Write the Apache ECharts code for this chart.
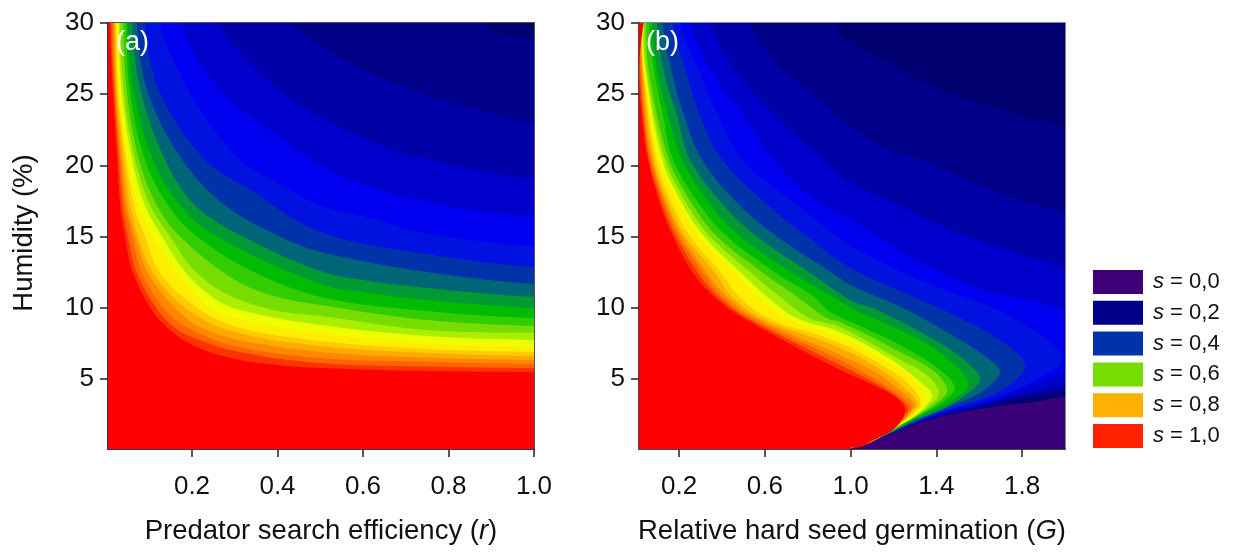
<!DOCTYPE html>
<html><head><meta charset="utf-8">
<style>html,body{margin:0;padding:0;background:#fff}#c{width:1235px;height:554px}</style>
<script src="https://cdn.jsdelivr.net/npm/echarts@6/dist/echarts.min.js"></script>
</head><body><div id="c"></div>
<script>
// Tick labels
const rTicks=[0.2,0.4,0.6,0.8,1.0];
const gTicks=[0.2,0.6,1.0,1.4,1.8];
const hTicks=[5,10,15,20,25,30];
const legendNames=['s = 0,0','s = 0,2','s = 0,4','s = 0,6','s = 0,8','s = 1,0'];
const legendColors=['#3f0077','#00008a','#0033aa','#77dd00','#ffb000','#ff2000'];
// Band colours from the highest s (red) to the lowest
const bandColors=['#ff0000','#ff3300','#ff6600','#ff8800','#ffaa00','#ffcc00','#ffee00','#eeff00','#aaee00','#77dd00','#33cc00','#00bb00','#009933','#006677','#0033aa','#0011e0','#0000f0','#0000cc','#0000a8','#000088'];
// Panel (a): contour outlines, as r, humidity pairs
const a01=[.008,30,.015,25.1,.025,20.4,.032,17.2,.043,15,.062,12.44,.106,9.85,.149,8.44,.2,7.39,.289,6.47,.399,5.98,.5,5.77,.75,5.56,1,5.49];
const a02=[.011,30,.018,25.1,.029,20.4,.037,17.2,.05,15,.071,12.44,.12,9.85,.16,8.58,.2,7.95,.3,6.97,.5,6.12,.75,5.88,1,5.77];
const a03=[.015,30,.02,25.1,.032,20.4,.043,17.2,.06,15,.083,12.44,.137,9.85,.2,8.44,.3,7.32,.5,6.47,.75,6.2,1,6.05];
const a04=[.018,30,.022,25.1,.036,20.4,.048,17.2,.067,15,.097,12.44,.165,9.85,.219,8.65,.3,7.81,.5,6.9,.75,6.5,1,6.33];
const a05=[.02,30,.025,25.1,.041,20.4,.055,17.2,.074,15,.109,12.44,.191,9.85,.3,8.3,.5,7.32,.75,6.83,1,6.62];
const a06=[.022,30,.027,25.1,.046,20.4,.064,17.2,.09,15,.125,12.44,.219,9.85,.312,8.58,.5,7.67,.75,7.1,1,6.9];
const a07=[.025,30,.032,25.1,.05,20.4,.075,17.2,.109,15,.16,12.65,.207,11.04,.249,9.85,.294,9.35,.347,9,.5,8.23,.75,7.53,1,7.25];
const a08=[.029,30,.036,25.1,.06,20.4,.09,17.2,.13,15,.184,12.51,.247,10.76,.312,9.85,.5,8.79,.75,8.02,1,7.74];
const a09=[.032,30,.041,25.1,.067,20.4,.102,17.2,.149,15,.2,12.8,.277,11.04,.389,9.85,.5,9.42,.75,8.44,1,8.23];
const a10=[.039,30,.048,25.1,.076,20.4,.118,17.2,.172,15,.289,12.16,.383,10.9,.5,10.2,.75,9.14,1,8.72];
const a11=[.046,30,.055,25.1,.09,20.4,.144,17.2,.212,15,.336,12.65,.5,10.76,.75,9.78,1,9.28];
const a12=[.05,30,.064,25.1,.109,20.4,.172,17.2,.258,15,.5,11.67,.617,11.04,.75,10.55,1,9.99];
const a13=[.06,30,.081,25.1,.137,20.4,.207,17.2,.319,15,.5,12.58,.617,11.88,.75,11.39,1,10.76];
const a14=[.071,30,.097,25.1,.177,20.4,.277,17.2,.406,15,.5,13.92,.75,12.51,1,11.67];
const a15=[.09,30,.125,25.1,.23,20.4,.335,18.3,.5,15.32,.75,13.78,1,12.87];
const a16=[.125,30,.16,27.2,.219,23.9,.312,20.4,.398,18.8,.5,17.2,.617,16.3,.733,15.3,.85,14.76,1,14.34];
const a17=[.177,30,.219,27.2,.296,24.4,.39,22.3,.5,20.03,.617,18.48,.733,17.57,.85,16.87,1,16.38];
const a18=[.265,30,.336,27.2,.413,25.1,.5,23.4,.577,22.28,.656,21.22,.757,20.4,.89,19.54,1,19.11];
const a19=[.436,30,.5,28.46,.6,26.7,.733,25.08,.89,23.75,1,22.98];
const a20=[.881,30,1,28.95];
const aTop=[1.3,30,1.3,0];
// Panel (b): contour outlines, as G, humidity pairs
const b01=[.013,26.3,.03,23,.055,20.4,.113,17.2,.172,15,.265,12.44,.359,10.83,.499,9.28,.951,5.63,1.105,4.58,1.217,3.67,1.254,2.82,1.231,1.98,1.184,1.28,1.105,.72,1.044,.22,.998,.08];
const b02=[.016,27.5,.033,23.4,.06,20.4,.123,17.2,.186,15,.289,12.44,.378,10.83,.518,9.28,.951,5.98,1.105,4.79,1.207,3.88,1.268,2.96,1.245,2.33,1.217,1.84,1.189,1.42,1.105,.7,1.044,.24,.998,.08];
const b03=[.018,29,.036,23.6,.069,20.4,.135,17.2,.2,15,.312,12.44,.396,10.83,.536,9.28,.951,6.33,1.105,5.07,1.207,4.09,1.282,3.1,1.259,2.47,1.231,1.91,1.193,1.42,1.105,.68,1.044,.25,.998,.08];
const b04=[.02,30,.04,24,.074,20.4,.144,17.2,.214,15,.33,12.44,.419,10.83,.559,9.28,.951,6.69,1.114,5.49,1.217,4.37,1.296,3.24,1.273,2.54,1.24,2.05,1.198,1.49,1.105,.66,1.044,.26,.998,.08];
const b05=[.022,30,.032,26.5,.083,20.4,.155,17.2,.228,15,.368,12.44,.443,10.83,.583,9.28,.951,7.18,1.128,5.77,1.231,4.65,1.31,3.38,1.287,2.68,1.249,2.12,1.203,1.56,1.105,.66,1.044,.26,.998,.08];
const b06=[.023,30,.035,26.5,.093,20.4,.172,17.2,.251,15,.396,12.44,.475,10.83,.615,9.28,.951,7.53,1.137,6.05,1.254,4.86,1.324,3.53,1.305,2.75,1.259,2.19,1.207,1.56,1.105,.66,1.044,.26,.998,.08];
const b07=[.025,30,.04,26.5,.107,20.4,.202,17.2,.298,15,.46,12.44,.559,10.83,.699,9.28,.951,7.95,1.161,6.33,1.287,5.14,1.347,3.74,1.324,2.89,1.277,2.26,1.217,1.63,1.105,.66,1.044,.26,.998,.08];
const b08=[.027,30,.045,26.5,.121,20.4,.219,17.2,.317,15,.49,12.44,.606,10.83,.746,9.28,.951,8.3,1.184,6.4,1.324,4.79,1.38,3.88,1.347,3.03,1.287,2.26,1.221,1.7,1.105,.66,1.044,.26,.998,.08];
const b09=[.037,30,.05,26.5,.135,20.4,.24,17.2,.345,15,.536,12.44,.667,10.83,.807,9.28,.951,8.65,1.207,6.54,1.361,5.21,1.413,4.02,1.371,3.17,1.301,2.4,1.231,1.77,1.105,.66,1.044,.26,.998,.08];
const b10=[.046,30,.06,26.5,.153,20.4,.265,17.2,.377,15,.592,12.44,.746,10.83,.886,9.28,.951,9,1.231,6.9,1.394,5.49,1.45,4.23,1.408,3.38,1.324,2.54,1.245,1.91,1.175,1.28,1.105,.66,1.044,.26,.998,.08];
const b11=[.06,30,.085,26.5,.125,23.5,.172,20.4,.298,17.2,.424,15,.652,12.44,.825,10.83,.89,9.85,.951,9.35,1.231,7.39,1.417,5.63,1.487,4.37,1.441,3.53,1.347,2.68,1.254,1.91,1.184,1.28,1.105,.66,1.044,.26,.998,.08];
const b12=[.074,30,.1,26.5,.149,23.5,.214,20.4,.349,17.2,.484,15,.732,12.44,.998,10.06,1.02,9.85,1.324,7.74,1.487,5.98,1.548,4.58,1.478,3.53,1.385,2.82,1.291,2.12,1.184,1.25,1.105,.66,1.044,.26,.998,.08];
const b13=[.097,30,.13,26.5,.19,23.5,.251,20.4,.407,17.2,.564,15,.811,12.44,.998,10.55,1.123,9.85,1.417,7.53,1.557,5.98,1.604,4.93,1.52,3.7,1.41,2.75,1.3,2.1,1.184,1.22,1.105,.66,1.044,.26,.998,.08];
const b14=[.125,30,.167,26.5,.223,23.5,.307,20.4,.482,17.2,.657,15,.914,12.44,.998,11.6,1.263,9.85,1.511,7.74,1.651,6.33,1.697,5.42,1.604,4.02,1.497,3.31,1.338,2.33,1.184,1.2,1.105,.66,1.044,.26,.998,.08];
const b15=[.172,30,.233,26.5,.298,23.5,.401,20.4,.624,17.08,.797,15,.998,12.8,1.431,9.85,1.697,7.74,1.814,5.98,1.73,4.44,1.571,3.38,1.417,2.68,1.263,1.7,1.184,1.18,1.105,.66,1.044,.26,.998,.08];
const b16=[.205,30,.298,26.5,.382,23.5,.494,20.4,.718,17.6,.937,15,.998,14.3,1.324,11.95,1.683,9.85,1.907,7.88,1.991,6.47,1.907,5.28,1.73,4.02,1.571,3.24,1.417,2.61,1.263,1.68,1.184,1.16,1.105,.66,1.044,.26,.998,.08];
const b17=[.251,30,.359,26.5,.517,23.2,.638,20.4,.811,17.9,.998,16.2,1.128,15,1.324,13.2,1.618,11.25,1.991,9.85,2.09,8,2.09,6,1.991,5.49,1.884,4.79,1.73,3.88,1.571,3.1,1.417,2.54,1.263,1.67,1.184,1.15,1.105,.66,1.044,.26,.998,.08];
const b18=[.354,30,.485,26.2,.671,23.2,.872,20.4,.998,18.8,1.198,17.4,1.464,15.5,1.776,13.85,1.991,12.9,2.1,12,2.1,5,1.991,4.58,1.884,4.23,1.73,3.67,1.571,3.03,1.417,2.47,1.263,1.66,1.184,1.15,1.105,.66,1.044,.26,.998,.08];
const b19=[.531,30,.671,26.9,.811,25.1,.998,22.7,1.151,21.3,1.324,20.4,1.618,18.5,1.823,17.4,1.991,16.7,2.1,16.2,2.1,4.6,1.991,4.3,1.884,3.95,1.73,3.53,1.571,2.96,1.417,2.4,1.263,1.65,1.184,1.14,1.105,.66,1.044,.26,.998,.08];
const b20=[.937,30,.998,28.74,1.464,25.1,1.991,22.7,2.1,22,2.1,4.5,1.991,4.09,1.884,3.81,1.73,3.38,1.571,2.89,1.417,2.37,1.263,1.64,1.184,1.14,1.105,.66,1.044,.26,.998,.08];
const bTop=[2.1,30,2.1,3.7,1.991,3.74,1.884,3.46,1.73,3.17,1.571,2.82,1.417,2.33,1.263,1.63,1.184,1.14,1.105,.65,1.044,.25,.998,.08];
const bBase=[2.3,30,2.3,0];

const aBands=[a20,a19,a18,a17,a16,a15,a14,a13,a12,a11,a10,a09,a08,a07,a06,a05,a04,a03,a02,a01];
const bBands=[b20,b19,b18,b17,b16,b15,b14,b13,b12,b11,b10,b09,b08,b07,b06,b05,b04,b03,b02,b01];

const FONT='"Liberation Sans",Arial,sans-serif';
function pairs(f){const o=[];for(let i=0;i<f.length;i+=2)o.push([f[i],f[i+1]]);return o;}
function band(flat,color,panel,name){
  const pts=pairs(flat);
  const left=panel===0?-0.3:-0.5;
  const last=pts[pts.length-1];
  const first=pts[0];
  const outer=[];
  outer.push(...pts);
  if(panel===0&&last[0]>=1&&last[0]<1.2)outer.push([1.15,last[1]]);
  if(last[1]>0){outer.push([outer[outer.length-1][0],-4]);}
  outer.push([left,-4],[left,36],[first[0],36]);
  return {type:'custom',name:name,xAxisIndex:panel,yAxisIndex:panel,clip:true,silent:true,animation:false,
    coordinateSystem:'cartesian2d',data:pts,itemStyle:{color:color},
    renderItem:function(p,api){
      if(p.dataIndex!==0)return null;
      return {type:'polygon',shape:{points:outer.map(function(q){return api.coord(q);}),smooth:0.35},
        style:{fill:color,stroke:null}};
    }};
}
const series=[];
series.push(band(aTop,'#000070',0));
aBands.forEach(function(b,i){series.push(band(b,bandColors[19-i],0));});
series.push(band(bBase,'#3a0078',1));
series.push(band(bTop,'#000070',1));
bBands.forEach(function(b,i){series.push(band(b,bandColors[19-i],1));});
legendNames.forEach(function(n,i){
  series.push({type:'custom',name:n,xAxisIndex:0,yAxisIndex:0,data:[],itemStyle:{color:legendColors[i]},renderItem:function(){return null;}});
});

function xAxis(gi,min,max,ticks,name){
  return {type:'value',gridIndex:gi,min:min,max:max,position:'bottom',
    name:name,nameLocation:'middle',nameGap:68,
    nameTextStyle:{fontFamily:FONT,fontSize:27.5,color:'#111',rich:{i:{fontStyle:'italic',fontFamily:FONT,fontSize:27.5,color:'#111'}}},
    axisLine:{show:true,onZero:false,lineStyle:{color:'#333',width:1.5}},
    axisTick:{show:true,length:8,customValues:ticks,lineStyle:{color:'#222',width:1.5}},
    splitLine:{show:false},
    axisLabel:{customValues:ticks,margin:25,fontFamily:FONT,fontSize:26,color:'#111',formatter:function(v){return Number(v).toFixed(1);}}};
}
function yAxis(gi,name){
  return {type:'value',gridIndex:gi,min:0.08,max:30,position:'left',
    name:name,nameLocation:'middle',nameGap:70,nameRotate:90,
    nameTextStyle:{fontFamily:FONT,fontSize:27.5,color:'#111',padding:[0,0,0,6]},
    axisLine:{show:true,onZero:false,lineStyle:{color:'#333',width:1.5}},
    axisTick:{show:true,length:8,customValues:hTicks,lineStyle:{color:'#222',width:1.5}},
    splitLine:{show:false},
    axisLabel:{customValues:hTicks,margin:14,fontFamily:FONT,fontSize:26,color:'#111',formatter:function(v){return String(Math.round(v));}}};
}
const chart=echarts.init(document.getElementById('c'),null,{renderer:'canvas'});
chart.setOption({
  animation:false,backgroundColor:'#fff',tooltip:{show:false},
  grid:[{left:108,top:23,width:426,height:426,show:true,borderColor:'#555',borderWidth:2,backgroundColor:'#000070'},
        {left:639,top:23,width:426,height:426,show:true,borderColor:'#888',borderWidth:2,backgroundColor:'#3a0078'}],
  xAxis:[xAxis(0,0.0035,1,rTicks,'Predator search efficiency ({i|r})'),xAxis(1,0.013,2,gTicks,'Relative hard seed germination ({i|G})')],
  yAxis:[yAxis(0,'Humidity (%)'),Object.assign(yAxis(1,''),{name:''})],
  legend:{left:1088,top:265,orient:'vertical',itemWidth:50,itemHeight:24,itemGap:6.8,selectedMode:false,icon:'rect',
    data:legendNames.map(function(n,i){return {name:n,itemStyle:{color:legendColors[i]}};}),
    formatter:function(n){return '{i|s}'+n.slice(1);},
    textStyle:{fontFamily:FONT,fontSize:22,color:'#111',padding:[0,0,0,5],rich:{i:{fontStyle:'italic',fontFamily:FONT,fontSize:22,color:'#111'}}}},
  graphic:[{type:'text',left:116,top:29,z:100,style:{text:'(a)',fill:'#fff',font:'27px '+FONT}},
           {type:'text',left:646,top:29,z:100,style:{text:'(b)',fill:'#fff',font:'27px '+FONT}}],
  series:series
});
</script></body></html>
